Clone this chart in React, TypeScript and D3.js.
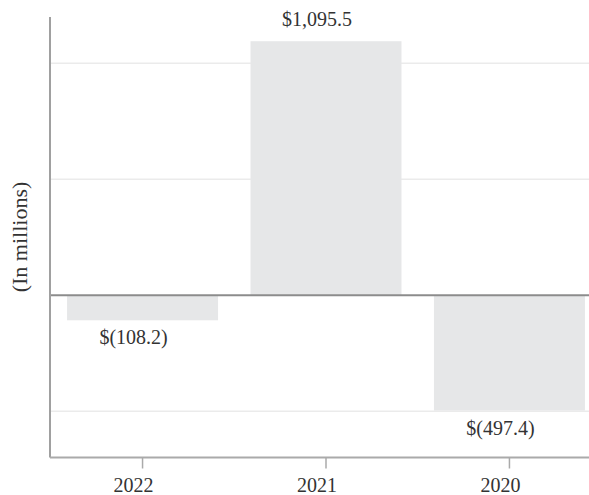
import React, { FC } from 'react';
import * as d3 from 'd3';

// Chart data
const years: string[] = ['2022', '2021', '2020'];
const values: number[] = [-108.2, 1095.5, -497.4];
const valueLabels: string[] = ['$(108.2)', '$1,095.5', '$(497.4)'];
const gridValues: number[] = [-500, 500, 1000];

const WIDTH = 589;
const HEIGHT = 495;
const FONT = '"Liberation Serif", "Times New Roman", serif';

const App: FC = () => {
  const x = d3.scaleBand<string>()
    .domain(years)
    .range([50, 602])
    .paddingInner(0.177)
    .paddingOuter(0.093);

  const y = d3.scaleLinear().domain([-700, 1200]).range([457.5, 17]);
  const zero = y(0);

  return (
    <svg
      width={WIDTH}
      height={HEIGHT}
      style={{ position: 'absolute', left: 0, top: 0, background: '#fff' }}
    >
      {/* gridlines */}
      {gridValues.map(v => (
        <line key={v} x1={50} x2={WIDTH} y1={y(v)} y2={y(v)} stroke="#ebebeb" strokeWidth={1.5} />
      ))}

      {/* bars */}
      {years.map((yr, i) => {
        const v = values[i];
        return (
          <rect
            key={yr}
            x={x(yr)}
            y={v >= 0 ? y(v) : zero}
            width={x.bandwidth()}
            height={Math.abs(y(v) - zero)}
            fill="#e6e7e8"
          />
        );
      })}

      {/* zero line */}
      <line x1={50} x2={WIDTH} y1={zero} y2={zero} stroke="#8c8c8c" strokeWidth={2} />

      {/* y axis */}
      <line x1={50} x2={50} y1={y(1200)} y2={y(-700)} stroke="#a0a0a0" strokeWidth={2} />

      {/* x axis */}
      <line x1={50} x2={WIDTH} y1={y(-700)} y2={y(-700)} stroke="#aaaaaa" strokeWidth={2} />
      {years.map(yr => {
        const cx = (x(yr) ?? 0) + x.bandwidth() / 2;
        return (
          <g key={yr}>
            <line x1={cx} x2={cx} y1={y(-700)} y2={y(-700) + 11} stroke="#aaaaaa" strokeWidth={1.5} />
            <text
              x={cx - 9}
              y={492}
              textAnchor="middle"
              fontFamily={FONT}
              fontSize={20}
              fill="#333"
            >
              {yr}
            </text>
          </g>
        );
      })}

      {/* value labels */}
      {years.map((yr, i) => {
        const v = values[i];
        const cx = (x(yr) ?? 0) + x.bandwidth() / 2;
        const ty = v >= 0 ? y(v) - 15 : y(v) + 24;
        return (
          <text
            key={yr}
            x={cx - 9}
            y={ty}
            textAnchor="middle"
            fontFamily={FONT}
            fontSize={20}
            fill="#333"
          >
            {valueLabels[i]}
          </text>
        );
      })}

      {/* y axis title */}
      <text
        transform="translate(27, 237) rotate(-90)"
        textAnchor="middle"
        fontFamily={FONT}
        fontSize={22}
        fill="#333"
      >
        (In millions)
      </text>
    </svg>
  );
};

export default App;
